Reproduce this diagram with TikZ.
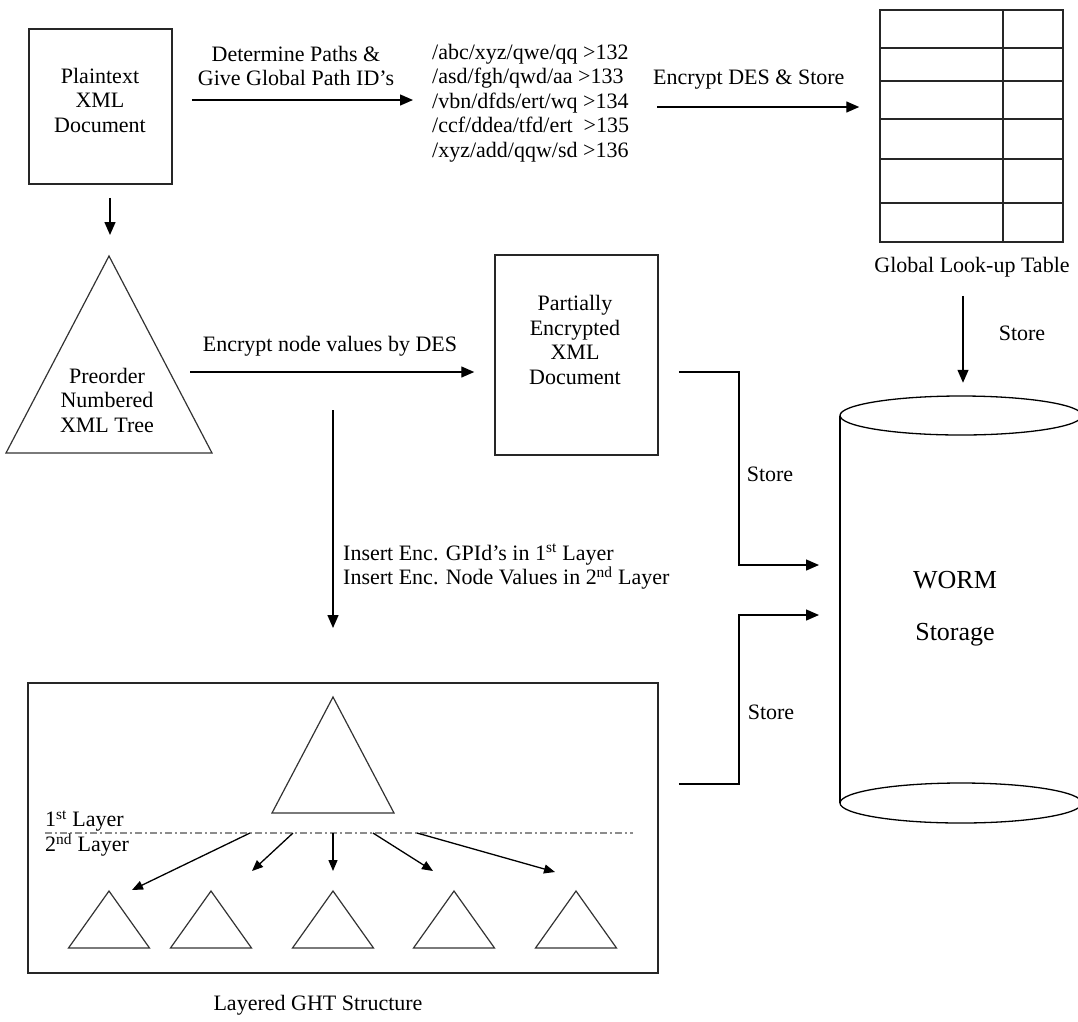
\documentclass[tikz,border=0pt]{standalone}
\usepackage{fontspec}
\setmainfont{Liberation Serif}
\usetikzlibrary{arrows.meta,calc}
\begin{document}
\begin{tikzpicture}[x=1pt,y=-1pt,
  txt/.style={inner sep=0pt, font=\fontsize{22}{24.5}\selectfont, align=center},
  bigtxt/.style={inner sep=0pt, font=\fontsize{26}{30}\selectfont},
  boxshape/.style={draw=black!85, line width=1.5pt, inner sep=0pt},
  conn/.style={line width=1.4pt, -{Triangle[length=13pt,width=11pt]}},
  smallconn/.style={line width=1.3pt, -{Triangle[length=11pt,width=9pt]}},
  plain/.style={line width=1.3pt},
  tri/.style={line width=1.2pt, draw=black!80},
  gridline/.style={line width=1.4pt, draw=black!85},
  layerline/.style={line width=1.3pt, draw=black!45, dash pattern=on 7pt off 3pt on 2pt off 3pt}
]
\useasboundingbox (0,0) rectangle (1078,1021);

% ---- Plaintext box
\node[boxshape, minimum width=143pt, minimum height=155pt] (box1) at (100.5,106.5) {};
\node[txt] (box1t) at (100,100) {Plaintext\\XML\\Document};

% ---- Path list
\node[txt, anchor=west, align=left] (paths) at (432,103)
  {/abc/xyz/qwe/qq >132\\/asd/fgh/qwd/aa >133\\/vbn/dfds/ert/wq >134\\/ccf/ddea/tfd/ert \ >135\\/xyz/add/qqw/sd >136};

% ---- Global look-up table
\node[draw=black!85, line width=1.5pt, inner sep=0pt, minimum width=183pt, minimum height=232pt] (table) at (971.5,126) {};
\draw[gridline] (1003,10) -- (1003,242);
\foreach \yy in {48,81,119,159,203} \draw[gridline] (880,\yy) -- (1063,\yy);
\node[txt] (tablelbl) at (972,267) {Global Look-up Table};

% ---- Tree triangle
\draw[tri] (109,256) -- (212,453) -- (6,453) -- cycle;
\coordinate (treetop) at (109,256);
\node[txt] (treet) at (107,400) {Preorder\\Numbered\\XML Tree};

% ---- Partially encrypted box
\node[boxshape, minimum width=163pt, minimum height=200pt] (box2) at (576.5,355) {};
\node[txt] (box2t) at (575,340) {Partially\\Encrypted\\XML\\Document};

% ---- Layered GHT structure box
\node[boxshape, minimum width=630pt, minimum height=290pt] (ght) at (343,828) {};
\node[txt] (ghtlbl) at (318,1005) {Layered GHT Structure};
\coordinate (bigtop) at (333,697);
\draw[tri] (bigtop) -- (394,813) -- (272,813) -- cycle;
\draw[layerline] (45,833) -- (633,833);
\node[txt, anchor=west] (l1) at (45,821) {1\textsuperscript{st} Layer};
\node[txt, anchor=west] (l2) at (45,845) {2\textsuperscript{nd} Layer};
\foreach \ax/\nm in {109/t1,211/t2,333/t3,454/t4,576/t5} {
  \coordinate (\nm) at (\ax,891);
  \draw[tri] (\nm) -- ($(\nm)+(40.5,57)$) -- ($(\nm)+(-40.5,57)$) -- cycle;
}
\draw[smallconn] (250,833) -- ($(t1)+(23,-1)$);
\draw[smallconn] (293,833) -- ($(t2)+(41,-20)$);
\draw[smallconn] (333,833) -- ($(t3)+(0,-20)$);
\draw[smallconn] (373,833) -- ($(t4)+(-21,-20)$);
\draw[smallconn] (417,833) -- ($(t5)+(-21,-19)$);

% ---- WORM storage cylinder
\draw[plain] (961,415.5) ellipse [x radius=121, y radius=19.5];
\draw[plain] (840,415.5) -- (840,803);
\draw[plain] (961,803) ellipse [x radius=121, y radius=20];
\coordinate (cylL) at (840,590);
\node[bigtxt] (worm) at (955,580) {WORM};
\node[bigtxt] (storage) at (955,635) {Storage};

% ---- Connectors
\draw[conn] ($(box1.east)+(19,-6.5)$) -- ($(paths.west)+(-19,-3)$);
\node[txt] (detlbl) at (296,66) {Determine Paths \&\\Give Global Path ID's};

\draw[conn] ($(table.west)+(-222,-19)$) -- ($(table.west)+(-20,-19)$);
\node[txt, anchor=west] (enclbl) at (653,80) {Encrypt DES \& Store};

\draw[conn] ($(box1.south)+(9.5,13)$) -- ($(treetop)+(1,-21)$);

\draw[conn] ($(box2.west)+(-304,17)$) -- ($(box2.west)+(-20,17)$);
\node[txt] (nodelbl) at (330,346) {Encrypt node values by DES};

\draw[conn] ($(bigtop)+(0,-287)$) -- ($(bigtop)+(0,-69)$);
\node[txt, anchor=west, align=left] (inslbl) at (343,567)
  {Insert Enc. GPId's in 1\textsuperscript{st} Layer\\Insert Enc. Node Values in 2\textsuperscript{nd} Layer};

\draw[conn] ($(table.south)+(-8.5,53)$) -- ($(table.south)+(-8.5,140)$);
\node[txt] (store1) at (1022,333) {Store};

\draw[conn] ($(box2.east)+(20,17)$) -| ($(cylL)+(-101,-25)$) -- ($(cylL)+(-21,-25)$);
\node[txt] (store2) at (770,474) {Store};

\draw[conn] ($(ght.east)+(20,-44)$) -| ($(cylL)+(-101,25)$) -- ($(cylL)+(-21,25)$);
\node[txt] (store3) at (771,712) {Store};
\end{tikzpicture}
\end{document}
